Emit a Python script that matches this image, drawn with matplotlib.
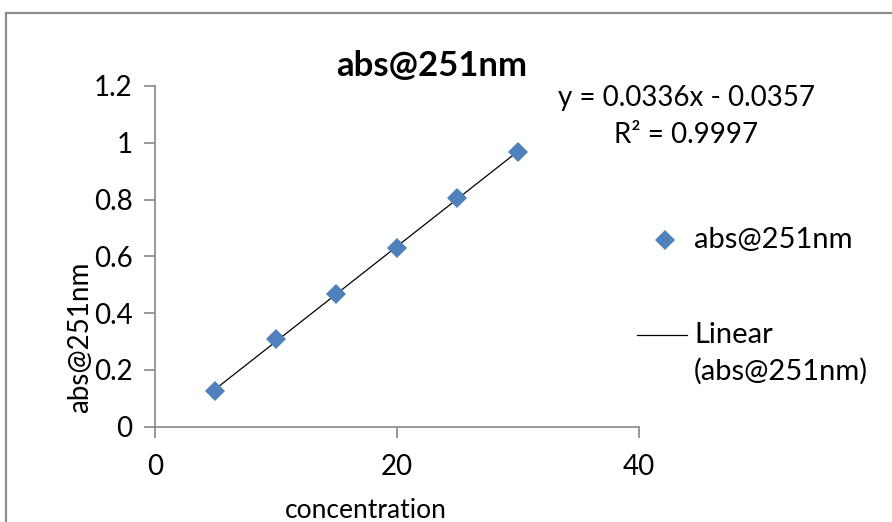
import numpy as np
import matplotlib
matplotlib.use('Agg')
import matplotlib.pyplot as plt
from matplotlib.patches import Rectangle
from matplotlib.lines import Line2D

plt.rcParams['font.family'] = ['Lato', 'DejaVu Sans']

# data
conc = [5, 10, 15, 20, 25, 30]
absorb = [0.127, 0.308, 0.467, 0.630, 0.805, 0.969]
series_name = 'abs@251nm'
eq_text = 'y = 0.0336x - 0.0357'
r2_text = 'R² = 0.9997'
x_ticks = [0, 20, 40]
y_ticks = [0, 0.2, 0.4, 0.6, 0.8, 1, 1.2]
y_ticklabels = ['0', '0.2', '0.4', '0.6', '0.8', '1', '1.2']

blue = '#4F81BD'
grey = '#868686'

W, H = 892, 522
fig = plt.figure(figsize=(W / 100, H / 100), dpi=100)
ax = fig.add_axes([154.7 / W, 1 - 426.7 / H, (639 - 154.7) / W, (426.7 - 86) / H])

# linear trendline from the data
k, b = np.polyfit(conc, absorb, 1)
xs = np.array([conc[0], conc[-1]])
ax.plot(xs, k * xs + b, color='black', lw=0.9, zorder=2)
ax.plot(conc, absorb, linestyle='none', marker='D', ms=10.5, color=blue,
        markeredgewidth=0, zorder=3)

ax.set_xlim(0, 40)
ax.set_ylim(0, 1.2)
ax.set_xticks(x_ticks)
ax.set_yticks(y_ticks)
ax.set_yticklabels(y_ticklabels)
for s in ['top', 'right']:
    ax.spines[s].set_visible(False)
for s in ['left', 'bottom']:
    ax.spines[s].set_color(grey)
    ax.spines[s].set_linewidth(1.2)
ax.tick_params(direction='out', length=8, width=1.2, color=grey,
               labelsize=20, labelcolor='black', pad=8)
ax.tick_params(axis='x', pad=12)

fig.text(366 / W, 1 - 510 / H, 'concentration', ha='center', va='center', fontsize=19)
fig.text(80 / W, 1 - 337 / H, series_name, ha='center', va='center',
         rotation=90, fontsize=20)

fig.text(432 / W, 1 - 66 / H, series_name, ha='center', va='center',
         fontsize=25, fontweight='bold')
fig.text(686.5 / W, 1 - 98 / H, eq_text, ha='center', va='center', fontsize=20)
fig.text(686.5 / W, 1 - 135 / H, r2_text, ha='center', va='center', fontsize=20)

# legend
fig.add_artist(Line2D([665 / W], [1 - 240 / H], marker='D', ms=10.5, color=blue,
                      markeredgewidth=0, linestyle='none'))
fig.text(694 / W, 1 - 240 / H, series_name, ha='left', va='center', fontsize=21)
fig.add_artist(Line2D([637 / W, 687 / W], [1 - 335 / H, 1 - 335 / H],
                      color='black', lw=0.9))
fig.text(694 / W, 1 - 335 / H, 'Linear', ha='left', va='center', fontsize=21)
fig.text(694 / W, 1 - 371 / H, '(abs@251nm)', ha='left', va='center', fontsize=21)

# chart border
fig.add_artist(Rectangle((6 / W, -0.1), 1.2, 1 - 13 / H + 0.1,
                         transform=fig.transFigure, fill=False,
                         edgecolor='#8c8c8c', lw=1.6))

fig.savefig('out.png', dpi=100)
